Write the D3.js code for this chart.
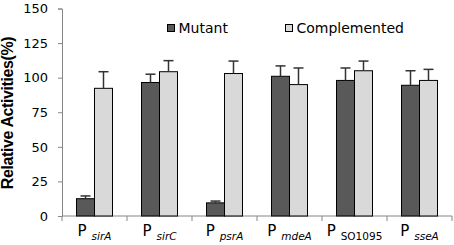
<!DOCTYPE html>
<html><head><meta charset="utf-8">
<script src="https://cdn.jsdelivr.net/npm/d3@7"></script>
<style>html,body{margin:0;padding:0;background:#fff;}svg{display:block;}</style>
</head><body>
<svg id="c" width="454" height="245"></svg>
<script>
const categories = ["sirA","sirC","psrA","mdeA","SO1095","sseA"];
const italicSub = [true,true,true,true,false,true];
const series = ["Mutant","Complemented"];
const mutant = [12.5, 96.5, 9.5, 101, 98, 94.5];
const mutantErr = [2, 6, 1.3, 7.5, 9, 10.5];
const complemented = [92.3, 104.3, 103, 95, 105, 98];
const complementedErr = [12, 8, 9, 12, 7, 8];
const yTicks = [0,25,50,75,100,125,150];

const svg = d3.select("#c");
const x0 = d3.scaleBand().domain(categories).range([62,452]).paddingInner(0).paddingOuter(0);
const x1 = d3.scaleBand().domain(series).range([0,x0.bandwidth()]).paddingInner(0).paddingOuter(0.806);
const y = d3.scaleLinear().domain([0,150]).range([216,8.5]);
const colors = {Mutant:"#595959", Complemented:"#d9d9d9"};
const vals = {Mutant:mutant, Complemented:complemented};
const errs = {Mutant:mutantErr, Complemented:complementedErr};

// y axis
const ya = svg.append("g").attr("transform","translate(62,0)")
  .call(d3.axisLeft(y).tickValues(yTicks).tickSize(4).tickPadding(10));
ya.select(".domain").attr("stroke","#868686");
ya.selectAll(".tick line").attr("stroke","#868686");
ya.selectAll(".tick text").attr("font-family","DejaVu Sans").attr("font-size",13).attr("fill","#000");

// x axis
const xa = svg.append("g").attr("transform","translate(0,216)");
xa.append("line").attr("x1",62).attr("x2",452).attr("y1",0).attr("y2",0).attr("stroke","#868686");
const bounds = categories.map(c=>x0(c)).concat([x0.range()[1]]);
xa.selectAll("line.t").data(bounds).join("line").attr("class","t")
  .attr("x1",d=>d).attr("x2",d=>d).attr("y1",0).attr("y2",5).attr("stroke","#868686");

// bars
series.forEach(s=>{
  const g = svg.append("g");
  g.selectAll("rect").data(categories).join("rect")
    .attr("x",c=>x0(c)+x1(s)).attr("width",x1.bandwidth())
    .attr("y",(c,i)=>y(vals[s][i])).attr("height",(c,i)=>y(0)-y(vals[s][i]))
    .attr("fill",colors[s]).attr("stroke","#000").attr("stroke-width",1);
  const e = svg.append("g").attr("stroke","#333").attr("stroke-width",1.5);
  categories.forEach((c,i)=>{
    const cx = x0(c)+x1(s)+x1.bandwidth()/2;
    const top = y(vals[s][i]+errs[s][i]);
    e.append("line").attr("x1",cx).attr("x2",cx).attr("y1",y(vals[s][i])).attr("y2",top);
    e.append("line").attr("x1",cx-5).attr("x2",cx+5).attr("y1",top).attr("y2",top);
  });
});

// category labels
categories.forEach((c,i)=>{
  const t = svg.append("text").attr("x",x0(c)+x0.bandwidth()/2).attr("y",236)
    .attr("text-anchor","middle").attr("font-family","DejaVu Sans").attr("fill","#000");
  t.append("tspan").attr("font-size",15).text("P");
  t.append("tspan").attr("font-size",10.5).attr("dx",5).attr("dy",4)
    .attr("font-style",italicSub[i]?"italic":"normal").text(c);
});

// y title
svg.append("text").attr("transform","translate(13,113) rotate(-90)")
  .attr("text-anchor","middle").attr("font-family","Liberation Sans").attr("font-weight","bold")
  .attr("font-size",16).attr("letter-spacing","-0.4").text("Relative Activities(%)");

// legend
const legX = [167.5, 285.5];
series.forEach((s,i)=>{
  svg.append("rect").attr("x",legX[i]).attr("y",24.5).attr("width",7).attr("height",7)
    .attr("fill",colors[s]).attr("stroke","#000");
  svg.append("text").attr("x",legX[i]+11).attr("y",33).attr("font-family","DejaVu Sans")
    .attr("font-size",14).attr("fill","#000").text(s);
});
</script>
</body></html>
